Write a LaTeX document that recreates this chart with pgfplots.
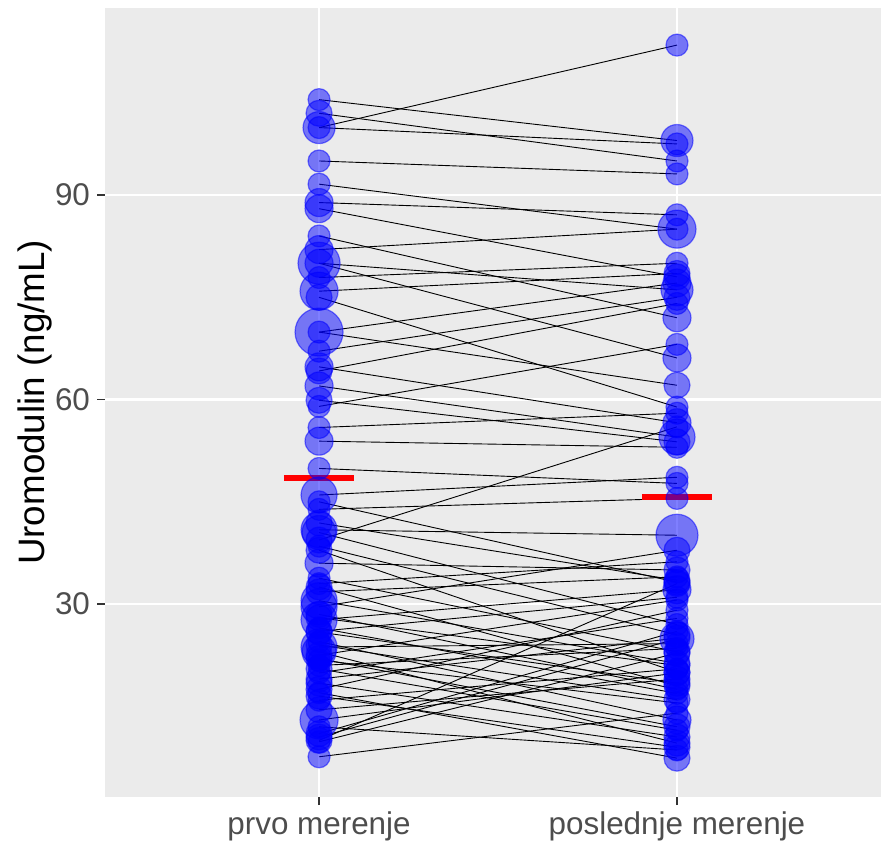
\documentclass[border=0pt]{standalone}
\usepackage{pgfplots}
\usepackage{pgfplotstable}
\pgfplotsset{compat=1.18}
\usepackage{fontspec}
\setmainfont{Liberation Sans}
\definecolor{panelgray}{HTML}{EBEBEB}
\definecolor{gtick}{HTML}{333333}
\definecolor{glabel}{HTML}{4D4D4D}
\pgfplotstableread{
pre post spre spost
104.0 98.0 5.5 8
102.0 95.0 6.5 5.5
99.9 112.0 8 5.5
99.9 97.5 5.5 5.5
95.0 93.1 5.5 5.5
91.6 85.0 5.5 9.5
88.9 87.1 7 5.5
88.0 78.0 7 6.5
84.0 72.0 5.5 7
82.0 85.0 7 5.5
80.0 76.1 10.5 8
80.0 66.1 7 7
77.9 80.0 5.5 5.5
75.9 78.5 9.5 6.5
75.0 58.9 6.5 5.5
69.9 77.1 12 7
69.9 62.1 5.5 6.5
67.1 75.0 5.5 6.5
64.8 56.6 7 7
64.2 74.1 6.5 5.5
62.0 54.5 7 9
59.9 53.8 6.5 6.5
59.0 68.1 5.5 5.5
55.9 58.0 5.5 5.5
53.9 53.0 7 5.5
49.9 47.7 5.5 5.5
46.0 48.6 9 5.5
45.0 33.2 5.5 6.5
43.9 45.5 5.5 5.5
41.9 33.5 6.5 6.5
40.9 40.1 9 10.5
40.5 27.0 8.5 5.5
39.4 56.0 6.5 5.5
38.5 25.5 5.5 6.5
37.9 20.0 6.5 6.5
36.0 35.0 7 6.5
33.8 23.0 5.5 6.5
33.0 36.2 5.5 5.5
32.5 18.0 6.5 6.5
31.8 34.0 6.5 5.5
30.5 21.3 9 6.5
29.6 37.9 9 6.5
28.5 17.5 6.5 5.5
28.0 21.0 6.5 6.5
27.7 32.1 9 7
26.5 16.9 5.5 5.5
26.0 31.0 6.5 5.5
25.9 18.4 6.5 6.5
24.5 13.0 5.5 7
24.0 16.0 6.5 6.5
23.7 24.2 9 5.5
23.0 9.6 8.5 6.5
22.5 30.6 6.5 5.5
22.0 12.0 6.5 6.5
21.8 15.5 5.5 5.5
21.0 23.5 5.5 5.5
20.5 11.5 6.5 5.5
19.9 27.9 5.5 5.5
19.0 25.0 6.5 6.5
18.4 10.5 6.5 6.5
17.5 29.1 6.5 5.5
17.0 7.4 5.5 6.5
16.5 9.0 6.5 6.5
15.9 20.5 5.5 5.5
14.5 19.0 6.5 6.5
13.0 19.9 9.5 6.5
12.0 8.6 5.5 5.5
11.0 26.0 6.5 5.5
10.5 24.9 6.5 8.5
10.0 33.0 6.5 6.5
9.8 22.8 5.5 6.5
7.6 14.0 5.5 5.5
}\data
\begin{document}
\begin{tikzpicture}
\useasboundingbox (-52.5pt,-22pt) rectangle (388pt,398.5pt);
\begin{axis}[
  at={(0,0)}, anchor=south west,
  scale only axis, width=388pt, height=394.7pt,
  xmin=0.402, xmax=2.57, ymin=1.7, ymax=117.5,
  axis background/.style={fill=panelgray},
  axis line style={draw=none},
  xmajorgrids, ymajorgrids,
  major grid style={white, line width=1.1pt},
  xtick={1,2}, xticklabels={prvo merenje, poslednje merenje},
  ytick={30,60,90}, yticklabels={30,60,90},
  xtick pos=lower, ytick pos=left,
  tick align=outside, major tick length=4pt,
  tick style={gtick, line width=0.6pt},
  /pgf/number format/assume math mode=true,
  tick label style={glabel, font=\fontsize{15.7}{18.8}\selectfont},
  every axis y label/.style={at={(axis description cs:-0.0786,0.5)}, anchor=base, rotate=90},
  ylabel={\fontsize{18.4}{22}\selectfont Uromodulin (ng/mL)},
  clip=false,
]
\addplot[only marks, mark=*, scatter, point meta=y,
  scatter/use mapped color={draw=blue, fill=blue},
  fill opacity=0.5, draw opacity=0.5,
  mark options={fill opacity=0.5, draw opacity=0.5, line width=0.6pt},
  visualization depends on={\thisrow{spre} \as \msize},
  scatter/@pre marker code/.append style={/tikz/mark size=\msize pt}]
  table[x expr=1, y=pre] {\data};
\addplot[only marks, mark=*, scatter, point meta=y,
  scatter/use mapped color={draw=blue, fill=blue},
  fill opacity=0.5, draw opacity=0.5,
  mark options={fill opacity=0.5, draw opacity=0.5, line width=0.6pt},
  visualization depends on={\thisrow{spost} \as \msize},
  scatter/@pre marker code/.append style={/tikz/mark size=\msize pt}]
  table[x expr=2, y=post] {\data};
\addplot[black, line width=0.45pt, -, quiver={u=1, v=\thisrow{post}-\thisrow{pre}}]
  table[x expr=1, y=pre] {\data};
\addplot[red, line width=3.3pt] coordinates {(0.902,48.5) (1.098,48.5)};
\addplot[red, line width=3.3pt] coordinates {(1.902,45.7) (2.098,45.7)};
\end{axis}
\end{tikzpicture}
\end{document}
